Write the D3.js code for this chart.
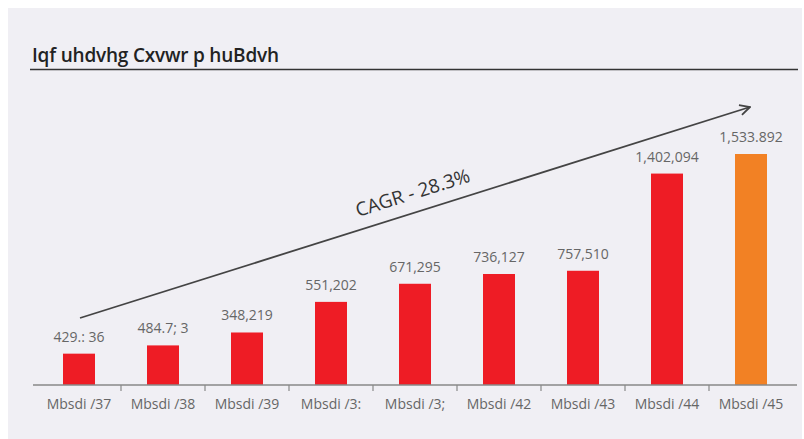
<!DOCTYPE html>
<html>
<head>
<meta charset="utf-8">
<script src="https://cdn.jsdelivr.net/npm/d3@7"></script>
<style>
  body { margin: 0; background: #fff; }
  svg { display: block; }
</style>
</head>
<body>
<div id="chart"></div>
<script>
// data
const categories = ["Mbsdi /37", "Mbsdi /38", "Mbsdi /39", "Mbsdi /3:", "Mbsdi /3;", "Mbsdi /42", "Mbsdi /43", "Mbsdi /44", "Mbsdi /45"];
const values = [207814, 262591, 348219, 551202, 671295, 736127, 757510, 1402094, 1531892];
const valueLabels = ["429.: 36", "484.7; 3", "348,219", "551,202", "671,295", "736,127", "757,510", "1,402,094", "1,533.892"];
const barColors = ["#ee1c25", "#ee1c25", "#ee1c25", "#ee1c25", "#ee1c25", "#ee1c25", "#ee1c25", "#ee1c25", "#f28124"];
const titleText = "Iqf uhdvhg Cxvwr p huBdvh";
const cagrText = "CAGR - 28.3%";

const width = 804, height = 439;
const font = "'Open Sans', 'Noto Sans', sans-serif";

const svg = d3.select("#chart").append("svg")
  .attr("width", width)
  .attr("height", height);

// panel background
svg.append("rect")
  .attr("x", 8).attr("y", 8)
  .attr("width", 794).attr("height", height - 8)
  .attr("fill", "#f0eff4");

// title + rule
svg.append("text")
  .attr("x", 32).attr("y", 62)
  .attr("font-family", font)
  .attr("font-size", 19)
  .attr("font-weight", 600)
  .attr("letter-spacing", -0.2)
  .attr("fill", "#222")
  .text(titleText);

svg.append("line")
  .attr("x1", 30).attr("x2", 798)
  .attr("y1", 69.5).attr("y2", 69.5)
  .attr("stroke", "#333").attr("stroke-width", 1.3);

const x = d3.scaleBand()
  .domain(categories)
  .range([37, 793])
  .paddingInner(0)
  .paddingOuter(0);

const y = d3.scaleLinear()
  .domain([0, d3.max(values)])
  .range([385, 154]);

const barW = 32;

svg.selectAll("rect.bar")
  .data(values)
  .enter().append("rect")
  .attr("class", "bar")
  .attr("x", (d, i) => x(categories[i]) + x.bandwidth() / 2 - barW / 2)
  .attr("y", d => y(d))
  .attr("width", barW)
  .attr("height", d => y(0) - y(d))
  .attr("fill", (d, i) => barColors[i]);

svg.selectAll("text.val")
  .data(values)
  .enter().append("text")
  .attr("class", "val")
  .attr("x", (d, i) => x(categories[i]) + x.bandwidth() / 2)
  .attr("y", d => y(d) - 12)
  .attr("text-anchor", "middle")
  .attr("font-family", font)
  .attr("font-size", 14)
  .attr("fill", "#666")
  .text((d, i) => valueLabels[i]);

// x axis
const axis = svg.append("g")
  .attr("transform", "translate(0,385)")
  .call(d3.axisBottom(x).tickSize(0).tickPadding(14));
axis.select(".domain")
  .attr("d", "M33,0H797")
  .attr("stroke", "#888").attr("stroke-width", 1.5);
axis.selectAll("text")
  .attr("font-family", font)
  .attr("font-size", 14)
  .attr("fill", "#666");

// separators between categories
svg.append("g").selectAll("line")
  .data(categories.slice(1))
  .enter().append("line")
  .attr("x1", d => x(d)).attr("x2", d => x(d))
  .attr("y1", 385).attr("y2", 391)
  .attr("stroke", "#888").attr("stroke-width", 1.2);

// CAGR arrow
const a0 = [80, 318], a1 = [750, 107];
svg.append("defs").append("marker")
  .attr("id", "arr")
  .attr("viewBox", "0 0 12 12")
  .attr("refX", 11).attr("refY", 6)
  .attr("markerWidth", 12).attr("markerHeight", 12)
  .attr("markerUnits", "userSpaceOnUse")
  .attr("orient", "auto")
  .append("path")
  .attr("d", "M1,1L11,6L1,11")
  .attr("fill", "none")
  .attr("stroke", "#444")
  .attr("stroke-width", 1.8);

svg.append("line")
  .attr("x1", a0[0]).attr("y1", a0[1])
  .attr("x2", a1[0]).attr("y2", a1[1])
  .attr("stroke", "#444").attr("stroke-width", 1.8)
  .attr("marker-end", "url(#arr)");

const ang = Math.atan2(a1[1] - a0[1], a1[0] - a0[0]) * 180 / Math.PI;
svg.append("text")
  .attr("transform", `translate(358,217) rotate(${ang})`)
  .attr("font-family", font)
  .attr("font-size", 19)
  .attr("fill", "#333")
  .text(cagrText);
</script>
</body>
</html>
